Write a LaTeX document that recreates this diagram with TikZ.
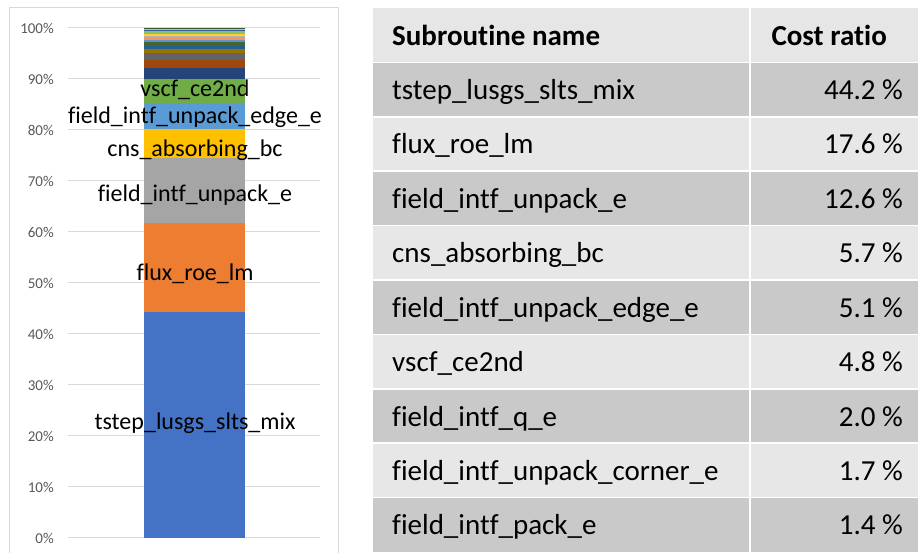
\documentclass[tikz,border=0pt]{standalone}
\usepackage{fontspec}
\setmainfont{Carlito}[Ligatures=NoCommon]
\definecolor{framegray}{HTML}{D9D9D9}
\definecolor{gridgray}{HTML}{D9D9D9}
\definecolor{axisgray}{HTML}{595959}
\definecolor{hdrfill}{HTML}{E6E6E6}
\definecolor{darkrow}{HTML}{C9C9C9}
\definecolor{lightrow}{HTML}{E7E7E7}
\definecolor{s1}{HTML}{4472C4}
\definecolor{s2}{HTML}{ED7D31}
\definecolor{s3}{HTML}{A5A5A5}
\definecolor{s4}{HTML}{FFC000}
\definecolor{s5}{HTML}{5B9BD5}
\definecolor{s6}{HTML}{70AD47}
\definecolor{s7}{HTML}{264478}
\definecolor{s8}{HTML}{9E480E}
\definecolor{s9}{HTML}{636363}
\definecolor{s10}{HTML}{997300}
\definecolor{s11}{HTML}{255E91}
\definecolor{s12}{HTML}{43682B}
\definecolor{s13}{HTML}{698ED0}
\definecolor{s14}{HTML}{F1975A}
\definecolor{s15}{HTML}{B7B7B7}
\definecolor{s16}{HTML}{FFCD33}
\definecolor{s17}{HTML}{7CAFDD}
\definecolor{s18}{HTML}{8CC168}
\definecolor{s19}{HTML}{335AA1}
\definecolor{s20}{HTML}{F4B183}
\definecolor{s21}{HTML}{D26012}
\definecolor{s22}{HTML}{385723}
\begin{document}
\begin{tikzpicture}[x=1pt,y=-1pt,
  barlbl/.style={font=\fontsize{24}{28}\selectfont, text=black, inner sep=0pt, anchor=base},
  axlbl/.style={font=\fontsize{15}{18}\selectfont, text=axisgray, inner sep=0pt, anchor=base east},
  namecell/.style={font=\fontsize{29}{34}\selectfont, text=black, inner sep=0pt, anchor=base west},
  valcell/.style={font=\fontsize{29}{34}\selectfont, text=black, inner sep=0pt, anchor=base east},
  hdrname/.style={namecell, font=\fontsize{29}{34}\selectfont\bfseries},
  hdrval/.style={valcell, font=\fontsize{29}{34}\selectfont\bfseries},
  gridln/.style={draw=gridgray, line width=1pt},
  sepln/.style={draw=white, line width=1.5pt}]
\useasboundingbox (0,0) rectangle (918,553);
\fill[white] (0,0) rectangle (918,553);
% chart frame
\draw[framegray, line width=1pt] (9,553) -- (9,8) -- (338,8) -- (338,553);
% gridlines and axis labels
\foreach \i in {0,...,10} {
  \pgfmathsetmacro{\yy}{537.7-51*\i}
  \draw[gridln] (68,\yy) -- (320,\yy);
  \pgfmathtruncatemacro{\pc}{10*\i}
  \node[axlbl] (ax\i) at (54,\yy+5.4) {\pc\%};
}
% stacked bar
\foreach \a/\b/\c in {0/44.2/s1, 44.2/61.8/s2, 61.8/74.4/s3, 74.4/80.1/s4, 80.1/85.2/s5, 85.2/90.0/s6,
  90.0/92.0/s7, 92.0/93.7/s8, 93.7/95.1/s9, 95.1/95.9/s10, 95.9/96.6/s11, 96.6/97.15/s12,
  97.15/97.65/s13, 97.65/98.1/s14, 98.1/98.45/s15, 98.45/98.75/s16, 98.75/99.05/s17,
  99.05/99.3/s18, 99.3/99.5/s19, 99.5/99.7/s20, 99.7/99.85/s21, 99.85/100/s22} {
  \fill[\c] (144,{537.7-5.1*\a}) rectangle (245,{537.7-5.1*\b});
}
% bar labels
\node[barlbl] (l1) at (195,429) {tstep\_lusgs\_slts\_mix};
\node[barlbl] (l2) at (195,280) {flux\_roe\_lm};
\node[barlbl] (l3) at (195,202) {field\_intf\_unpack\_e};
\node[barlbl] (l4) at (195,157) {cns\_absorbing\_bc};
\node[barlbl] (l5) at (195,124) {field\_intf\_unpack\_edge\_e};
\node[barlbl] (l6) at (195,97) {vscf\_ce2nd};
% table
\def\rh{54.4}
\fill[hdrfill] (373,8) rectangle (918,{8+\rh});
\foreach \k in {1,...,9} {
  \pgfmathtruncatemacro{\odd}{mod(\k,2)}
  \ifnum\odd=1 \def\rc{darkrow}\else\def\rc{lightrow}\fi
  \fill[\rc] (373,{8+\rh*\k}) rectangle (918,{8+\rh*(\k+1)});
}
\foreach \k in {1,...,9} { \draw[sepln] (373,{8+\rh*\k}) -- (918,{8+\rh*\k}); }
\draw[sepln] (750,8) -- (750,553);
\node[hdrname] (h1) at (392,{8+0.5*\rh+10}) {Subroutine name};
\node[hdrval] (h2) at (887,{8+0.5*\rh+10}) {Cost ratio};
\foreach \k/\n/\v in {1/tstep\_lusgs\_slts\_mix/44.2, 2/flux\_roe\_lm/17.6, 3/field\_intf\_unpack\_e/12.6,
  4/cns\_absorbing\_bc/5.7, 5/field\_intf\_unpack\_edge\_e/5.1, 6/vscf\_ce2nd/4.8,
  7/field\_intf\_q\_e/2.0, 8/field\_intf\_unpack\_corner\_e/1.7, 9/field\_intf\_pack\_e/1.4} {
  \node[namecell] (n\k) at (392,{8+\rh*(\k+0.5)+10}) {\n};
  \node[valcell] (v\k) at (903,{8+\rh*(\k+0.5)+10}) {\v\ \%};
}
\end{tikzpicture}
\end{document}
